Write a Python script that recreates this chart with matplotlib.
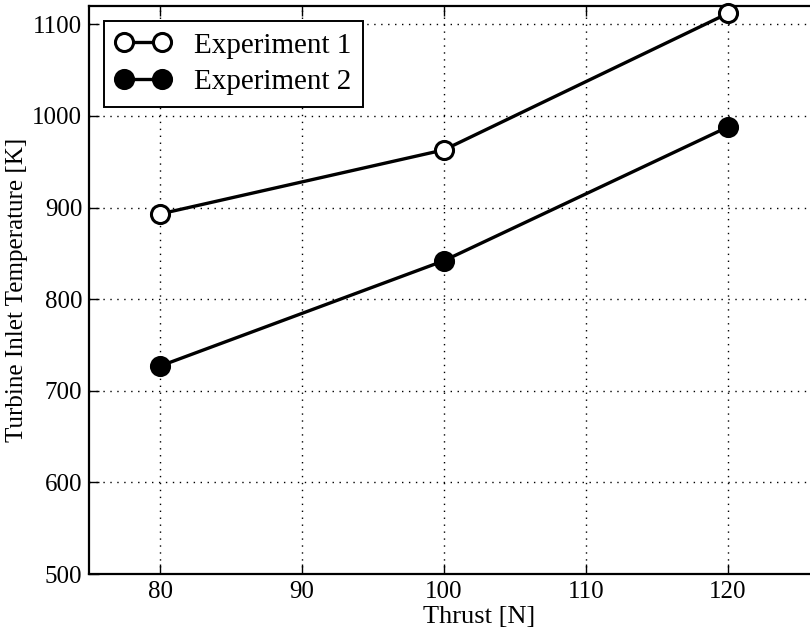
import matplotlib.pyplot as plt

thrust = [80, 100, 120]
exp1 = [893, 963, 1112]
exp2 = [727, 842, 988]

plt.rcParams['font.family'] = ['Liberation Serif', 'DejaVu Serif']

fig = plt.figure(figsize=(8.1, 6.31), dpi=100)
ax = fig.add_axes([0.110, 0.0903, 0.964, 0.9002])

ax.plot(thrust, exp1, '-o', color='black', lw=2.4, ms=13, mfc='white',
        mec='black', mew=2.2, label='Experiment 1', clip_on=False, zorder=3)
ax.plot(thrust, exp2, '-o', color='black', lw=2.4, ms=13, mfc='black',
        mec='black', mew=2.2, label='Experiment 2', clip_on=False, zorder=3)

ax.set_xlim(75, 130)
ax.set_ylim(500, 1120)
ax.set_xticks([80, 90, 100, 110, 120])
ax.set_yticks([500, 600, 700, 800, 900, 1000, 1100])
ax.grid(True, color='black', linestyle=(0, (1, 4)), lw=1)
ax.tick_params(direction='in', top=True, right=True, length=7, width=1,
               labelsize=18, pad=5)
for s in ax.spines.values():
    s.set_linewidth(1.6)

ax.set_xlabel('Thrust [N]', fontsize=19, labelpad=2)
ax.set_ylabel('Turbine Inlet Temperature [K]', fontsize=18, labelpad=3)

leg = ax.legend(loc='upper left', fontsize=21, fancybox=False, framealpha=1,
                edgecolor='black', borderaxespad=0.5, handlelength=1.9,
                numpoints=2, borderpad=0.4, labelspacing=0.35)
leg.get_frame().set_linewidth(1.4)

fig.savefig('out.png', dpi=100)
